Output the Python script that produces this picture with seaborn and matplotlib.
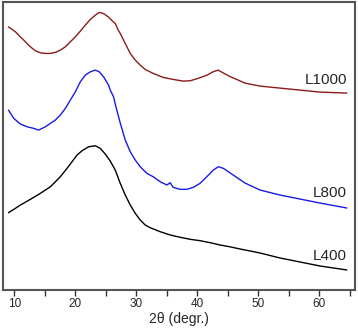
import matplotlib
matplotlib.use("Agg")
from matplotlib import pyplot as plt
from matplotlib.ticker import MultipleLocator
import numpy as np
import pandas as pd
import seaborn as sns

# 2theta / intensity (arb. units)
tt_1000 = [9.02, 10.16, 10.98, 11.80, 12.62, 13.44, 14.26, 15.08, 15.90, 16.71, 17.53, 18.35,
           19.17, 19.99, 20.81, 21.63, 22.45, 23.27, 23.92, 24.58, 25.39, 26.21, 26.54, 27.03,
           27.36, 28.18, 29.00, 29.82, 30.64, 31.45, 32.76, 34.40, 36.04, 37.68, 38.82, 40.13,
           41.61, 42.59, 43.41, 44.23, 45.21, 47.83, 50.29, 53.56, 56.84, 60.11, 64.54]
int_1000 = [263.3, 258.3, 253.3, 248.3, 243.3, 239.3, 237.3, 236.7, 236.7, 237.7, 240, 243.3,
            248.3, 253.3, 259, 265, 270.7, 275, 277.7, 276.7, 273.3, 268.3, 266.7, 260,
            256.7, 246.7, 236.7, 230, 225, 220.7, 216.7, 212.7, 210.7, 209, 209.3, 211.7,
            215, 218.3, 220, 217.3, 214, 207, 204, 202, 200, 198, 197]

tt_800 = [9.02, 9.89, 10.98, 12.08, 13.16, 13.98, 15.08, 15.90, 16.71, 17.53, 18.35, 19.17,
          19.99, 20.81, 21.63, 22.45, 23.27, 23.92, 24.62, 25.44, 25.72, 26.26, 26.54, 27.36,
          28.18, 29.00, 29.82, 30.64, 31.73, 32.76, 33.91, 35.01, 35.55, 36.04, 37.19, 38.28,
          39.36, 40.46, 41.56, 42.64, 43.46, 44.28, 45.10, 47.83, 50.29, 53.56, 56.84, 60.11,
          64.54]
int_800 = [180, 171.7, 166, 163.3, 161.7, 160, 163.3, 166.7, 170, 175, 181.7, 190,
           198.3, 208.3, 215, 218.3, 220, 218.3, 213.3, 205, 200, 193.3, 186, 167,
           150, 138.3, 130, 123.3, 116.7, 113.3, 108.3, 105, 107.3, 102.7, 100.7, 100.7,
           102.7, 106.7, 113.3, 120, 123.3, 121.7, 118.3, 107, 100, 95, 91, 87,
           82]

tt_400 = [9.02, 10.16, 10.98, 12.62, 14.26, 15.90, 17.53, 18.63, 19.45, 20.27, 21.09, 22.17,
          23.27, 24.08, 24.90, 25.72, 26.54, 27.36, 28.18, 29.00, 29.82, 30.64, 31.45, 32.27,
          33.91, 35.55, 37.19, 38.82, 40.46, 42.10, 43.74, 45.26, 47.01, 50.29, 53.56, 56.84,
          60.11, 64.54]
int_400 = [77.3, 81.7, 85, 90.7, 96.7, 103.3, 113.3, 121.7, 128.3, 135, 139.3, 143.3,
           144.3, 141.7, 136, 129, 120, 106.7, 95, 85, 76.7, 70, 65, 62.3,
           58.3, 55, 52.7, 50.7, 49.3, 47.3, 45, 43.3, 41, 37, 32, 28,
           24, 20]

samples = ["L1000", "L800", "L400"]
label_y = [210, 97, 34]

df = pd.concat([
    pd.DataFrame({"tt": tt_1000, "I": int_1000, "sample": "L1000"}),
    pd.DataFrame({"tt": tt_800, "I": int_800, "sample": "L800"}),
    pd.DataFrame({"tt": tt_400, "I": int_400, "sample": "L400"}),
])

sns.set_style("white")
plt.rcParams["font.family"] = ["Liberation Sans", "DejaVu Sans"]

fig = plt.figure(figsize=(3.58, 3.31), dpi=100)
ax = fig.add_axes([0.008, 0.124, 0.984, 0.871])

pal = {"L1000": "#8b1a1a", "L800": "#1a1ae6", "L400": "#000000"}
sns.lineplot(data=df, x="tt", y="I", hue="sample", palette=pal, linewidth=1.0,
             legend=False, ax=ax, sort=False)

for name, y in zip(samples, label_y):
    ax.text(64.6, y, name, ha="right", va="center", fontsize=11)

ax.set_xlim(8.1, 65.9)
ax.set_ylim(0, 288.5)
ax.set_yticks([])
ax.xaxis.set_major_locator(MultipleLocator(10))
ax.xaxis.set_minor_locator(MultipleLocator(5))
ax.tick_params(axis="x", which="both", direction="out", bottom=True, length=4,
               width=1, color="#333333", labelsize=8.5, pad=2)
ax.set_xlabel("2\u03b8 (degr.)", fontsize=10, labelpad=1)
ax.set_ylabel("")
for s in ax.spines.values():
    s.set_color("#555555")
    s.set_linewidth(1.5)

fig.savefig("out.png", dpi=100)
